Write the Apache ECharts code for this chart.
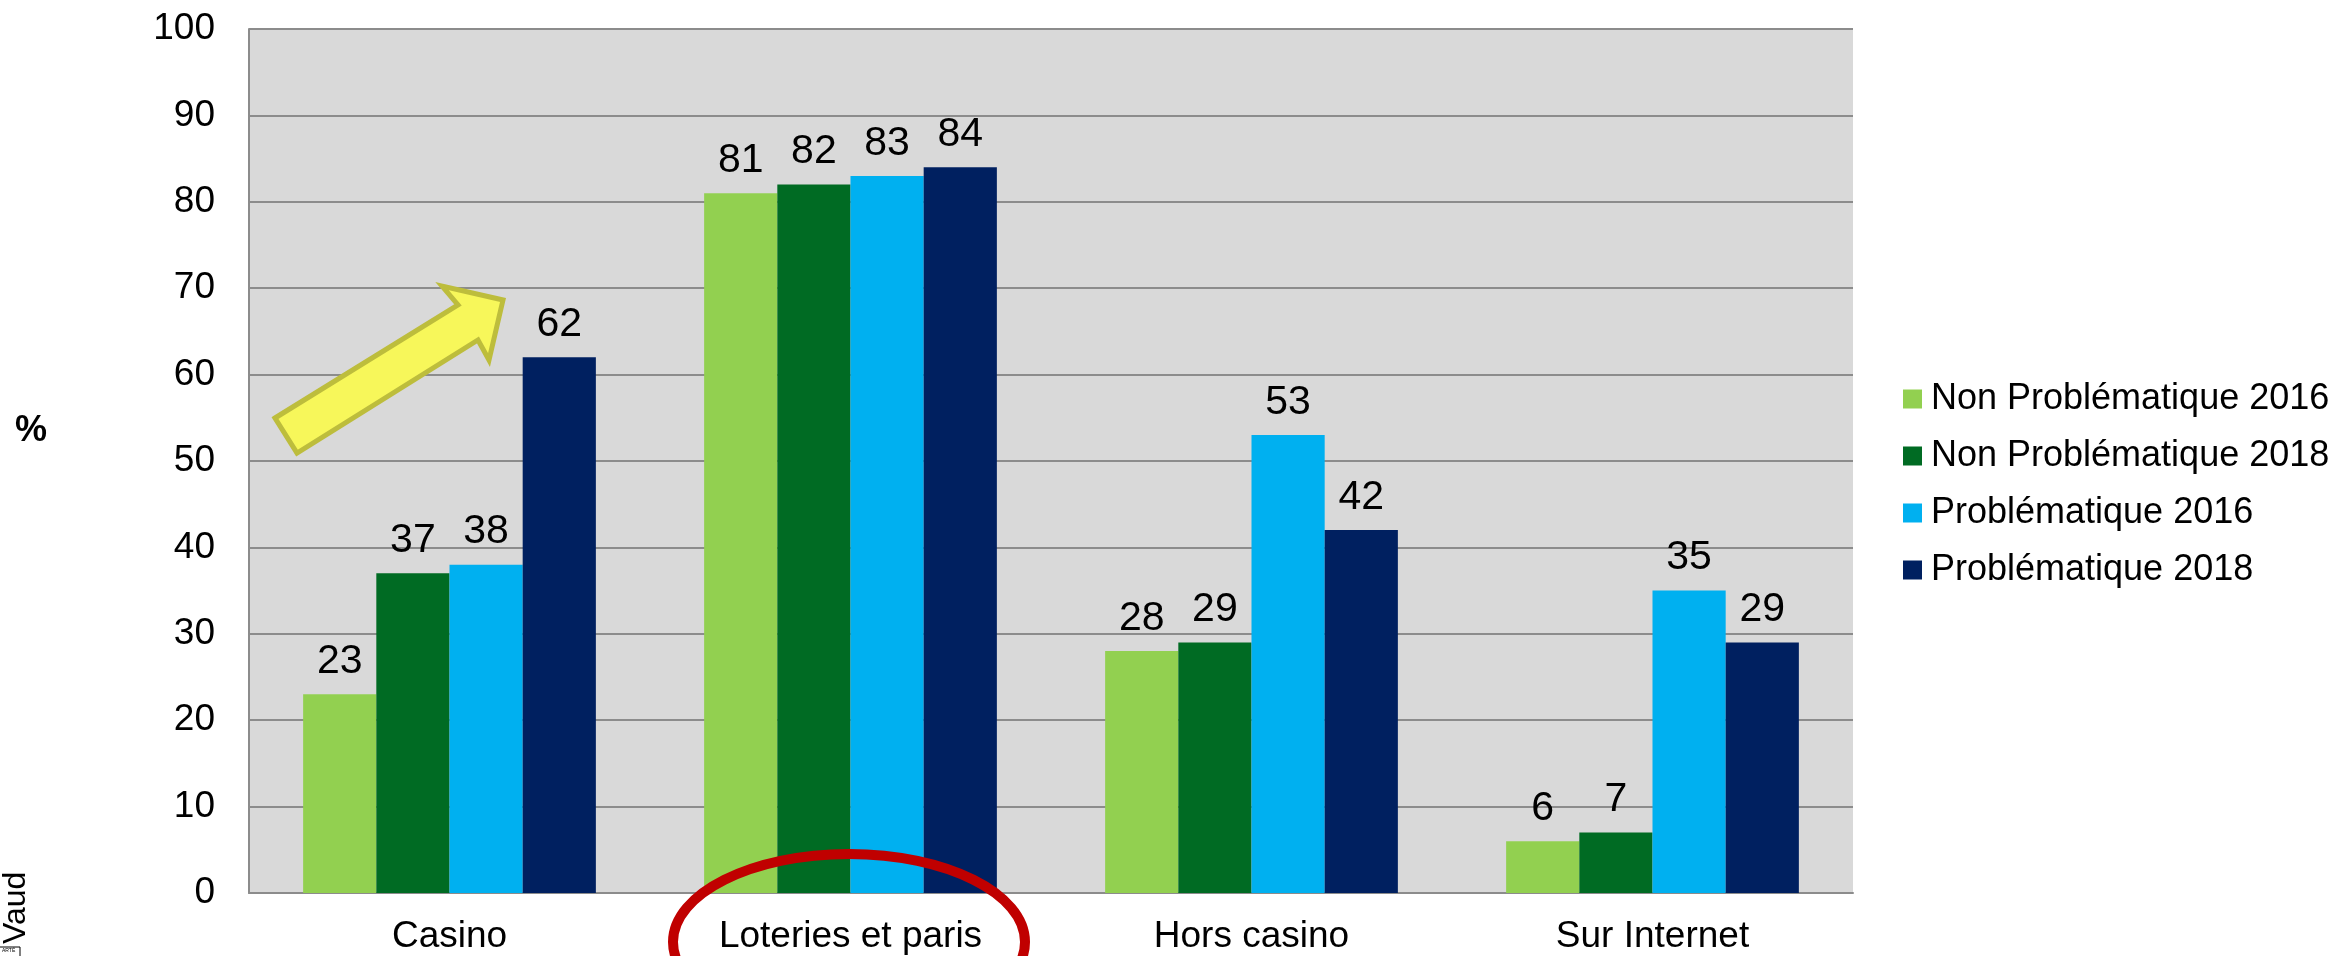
<!DOCTYPE html>
<html>
<head>
<meta charset="utf-8">
<script src="https://cdn.jsdelivr.net/npm/echarts@6/dist/echarts.min.js"></script>
<style>
  html, body { margin: 0; padding: 0; background: #fff; }
  #chart { width: 2346px; height: 956px; }
</style>
</head>
<body>
<div id="chart"></div>
<script>
const categories = ["Casino", "Loteries et paris", "Hors casino", "Sur Internet"];
const seriesNames = ["Non Problématique 2016", "Non Problématique 2018", "Problématique 2016", "Problématique 2018"];
const nonProb2016 = [23, 81, 28, 6];
const nonProb2018 = [37, 82, 29, 7];
const prob2016 = [38, 83, 53, 35];
const prob2018 = [62, 84, 42, 29];
const colors = ["#92D050", "#006B23", "#00B0F0", "#002060"];

const font = "Arial, 'Liberation Sans', sans-serif";
const allValues = [nonProb2016, nonProb2018, prob2016, prob2018];

let myChart = echarts.init(document.getElementById("chart"));

let option = {
  animation: false,
  textStyle: { fontFamily: font },
  grid: {
    left: 249,
    right: 493,
    top: 29,
    bottom: 63,
    show: true,
    backgroundColor: "#D9D9D9",
    borderWidth: 0
  },
  legend: {
    orient: "vertical",
    left: 1898,
    top: 376,
    itemWidth: 19,
    itemHeight: 19,
    itemGap: 21,
    icon: "rect",
    textStyle: { fontSize: 36, color: "#000", fontFamily: font, padding: [0, 0, 0, 4] },
    data: seriesNames
  },
  xAxis: {
    type: "category",
    data: categories,
    axisTick: { show: false },
    axisLine: { lineStyle: { color: "#8C8C8C", width: 2 } },
    axisLabel: { fontSize: 37, color: "#000", margin: 25, fontFamily: font }
  },
  yAxis: {
    type: "value",
    min: 0,
    max: 100,
    interval: 10,
    axisLine: { show: true, lineStyle: { color: "#8C8C8C", width: 2 } },
    axisTick: { show: false },
    splitLine: { lineStyle: { color: "#8C8C8C", width: 2 } },
    axisLabel: { fontSize: 37, color: "#000", margin: 34, fontFamily: font }
  },
  series: allValues.map((vals, i) => ({
    name: seriesNames[i],
    type: "bar",
    data: vals,
    barGap: "0%",
    barCategoryGap: "27%",
    itemStyle: { color: colors[i] },
    label: {
      show: true,
      position: "top",
      distance: 12,
      fontSize: 41,
      color: "#000",
      fontFamily: font
    }
  })),
  graphic: [
    {
      type: "text",
      left: 15,
      top: 413,
      z: 100,
      style: { text: "%", fill: "#000", font: "bold 36px " + font }
    },
    {
      type: "text",
      x: 0,
      y: 944,
      z: 100,
      rotation: Math.PI / 2,
      style: { text: "Vaud", fill: "#000", font: "32px " + font, textVerticalAlign: "top" }
    },
    {
      type: "rect",
      z: 100,
      shape: { x: -10, y: 947, width: 30, height: 14 },
      style: { fill: "#fff", stroke: "#000", lineWidth: 1 }
    },
    {
      type: "text",
      x: 2,
      y: 948,
      z: 101,
      style: { text: "ARTÉ", fill: "#000", font: "5px " + font }
    },
    {
      type: "polygon",
      z: 100,
      shape: {
        points: [[275, 418], [458, 305], [442, 286], [503, 300], [489, 360], [478, 340], [297, 453]]
      },
      style: { fill: "#F7F75A", stroke: "#BDBD3C", lineWidth: 5 }
    },
    {
      type: "ellipse",
      z: 100,
      shape: { cx: 849, cy: 942, rx: 176, ry: 88 },
      style: { fill: "none", stroke: "#C00000", lineWidth: 10 }
    }
  ]
};

myChart.setOption(option);
window.onresize = function() {
  myChart.resize();
};
</script>
</body>
</html>
